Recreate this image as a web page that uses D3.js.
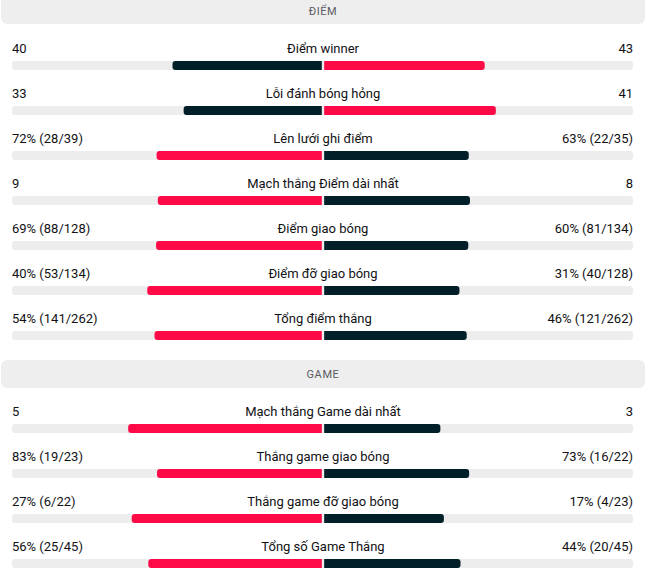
<!DOCTYPE html>
<html lang="vi">
<head>
<meta charset="UTF-8">
<title>Thống kê</title>
<script src="https://d3js.org/d3.v7.min.js"></script>
<style>
  body { margin: 0; background: #fff; }
  svg { display: block; font-family: Roboto, "Noto Sans", sans-serif; }
  .head-text { font-size: 11px; fill: #5a5a5f; letter-spacing: 0.6px; }
  .val { font-size: 13px; fill: #111114; }
  .lbl { font-size: 13px; fill: #111114; }
</style>
</head>
<body>
<svg width="646" height="573"></svg>
<script>
// Dữ liệu
const sections = ["ĐIỂM", "GAME"];
const sectionOf = [0, 0, 0, 0, 0, 0, 0, 1, 1, 1, 1];
const labels = [
  "Điểm winner", "Lỗi đánh bóng hỏng", "Lên lưới ghi điểm", "Mạch thắng Điểm dài nhất",
  "Điểm giao bóng", "Điểm đỡ giao bóng", "Tổng điểm thắng",
  "Mạch thắng Game dài nhất", "Thắng game giao bóng", "Thắng game đỡ giao bóng", "Tổng số Game Thắng"
];
const leftValues = [40, 33, 72, 9, 69, 40, 54, 5, 83, 27, 56];
const rightValues = [43, 41, 63, 8, 60, 31, 46, 3, 73, 17, 44];
const leftText = ["40", "33", "72% (28/39)", "9", "69% (88/128)", "40% (53/134)", "54% (141/262)",
  "5", "83% (19/23)", "27% (6/22)", "56% (25/45)"];
const rightText = ["43", "41", "63% (22/35)", "8", "60% (81/134)", "31% (40/128)", "46% (121/262)",
  "3", "73% (16/22)", "17% (4/23)", "44% (20/45)"];

const W = 646;
const left = 12, right = 633;
const cx = 323;
const gap = 1.2;
const red = "#ff0a47", dark = "#011f29", track = "#ededed";

const svg = d3.select("svg");

// bar length = share of the pair, scaled to half the track
const x = d3.scaleLinear().domain([0, 1]).range([0, cx - left - gap]);

const headerY = [-6, 360];
const headerH = [30, 28];
const headerText = [15, 378];
const firstRowY = [53, 416];
const rowStep = 45;

sections.forEach((s, i) => {
  svg.append("rect")
    .attr("x", 1).attr("y", headerY[i])
    .attr("width", W - 2).attr("height", headerH[i])
    .attr("rx", 6)
    .attr("fill", "#eeeeee");
  svg.append("text")
    .attr("class", "head-text")
    .attr("x", W / 2).attr("y", headerText[i])
    .attr("text-anchor", "middle")
    .text(s);
});

// rounded on outer side only
function barPath(x0, x1, y, h, r, roundLeft) {
  if (roundLeft) {
    return `M${x1},${y} H${x0 + r} Q${x0},${y} ${x0},${y + r} V${y + h - r} Q${x0},${y + h} ${x0 + r},${y + h} H${x1} Z`;
  }
  return `M${x0},${y} H${x1 - r} Q${x1},${y} ${x1},${y + r} V${y + h - r} Q${x1},${y + h} ${x1 - r},${y + h} H${x0} Z`;
}

const rows = labels.map((l, i) => {
  const sec = sectionOf[i];
  const idx = sectionOf.slice(0, i).filter(v => v === sec).length;
  return {
    label: l, a: leftValues[i], b: rightValues[i],
    ta: leftText[i], tb: rightText[i],
    y: firstRowY[sec] + idx * rowStep
  };
});

const g = svg.selectAll(".row").data(rows).enter().append("g").attr("class", "row");

g.append("text").attr("class", "val")
  .attr("x", left).attr("y", d => d.y).text(d => d.ta);
g.append("text").attr("class", "val")
  .attr("x", right).attr("y", d => d.y).attr("text-anchor", "end").text(d => d.tb);
g.append("text").attr("class", "lbl")
  .attr("x", cx).attr("y", d => d.y).attr("text-anchor", "middle").text(d => d.label);

const barTop = 8, barH = 9;

g.append("rect")
  .attr("x", left).attr("y", d => d.y + barTop)
  .attr("width", right - left).attr("height", barH)
  .attr("rx", 3).attr("fill", track);

g.append("path")
  .attr("d", d => barPath(cx - gap - x(d.a / (d.a + d.b)), cx - gap, d.y + barTop, barH, 3, true))
  .attr("fill", d => d.a >= d.b ? red : dark);

g.append("path")
  .attr("d", d => barPath(cx + gap, cx + gap + x(d.b / (d.a + d.b)), d.y + barTop, barH, 3, false))
  .attr("fill", d => d.b > d.a ? red : dark);
</script>
</body>
</html>
